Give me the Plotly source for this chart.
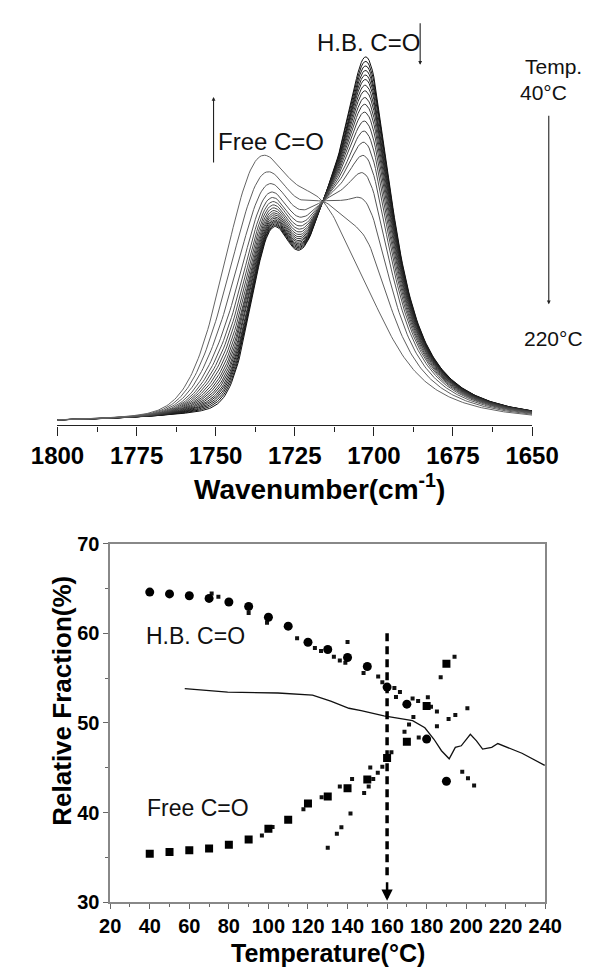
import numpy as np
import plotly.graph_objects as go

W, H = 615, 977
FONT = "Liberation Sans, Arial, sans-serif"

# ---------------- FTIR carbonyl band, 40-220 C ----------------
temps_ir = list(range(40, 230, 10))
# share of the high-temperature band form in each spectrum (two-state picture)
mix_weight = [0.0, 0.02, 0.04, 0.06, 0.08, 0.10, 0.125, 0.15, 0.18, 0.21,
              0.245, 0.285, 0.33, 0.38, 0.44, 0.52, 0.64, 0.80, 1.0]
# component bands: (centre cm-1, half width cm-1, height, lorentzian share)
bands_low_T = [(1732.5, 7.5, 0.424, 0.0),
               (1716.0, 8.0, 0.268, 0.0),
               (1702.0, 10.0, 0.968, 1.0)]
bands_high_T = [(1736.4, 13.0, 0.666, 0.15),
                (1716.0, 10.0, 0.330, 0.0),
                (1702.0, 15.0, 0.270, 1.0)]
wn_ticks = [1800, 1775, 1750, 1725, 1700, 1675, 1650]

# ---------------- fractions from curve fitting ----------------
temp_fit = [40, 50, 60, 70, 80, 90, 100, 110, 120, 130, 140, 150, 160, 170, 180, 190]
hb_fraction = [64.6, 64.4, 64.2, 63.9, 63.5, 63.0, 61.8, 60.8, 59.0, 58.2,
               57.3, 56.3, 54.0, 52.1, 48.2, 43.5]
free_fraction = [35.4, 35.6, 35.8, 36.0, 36.4, 37.0, 38.2, 39.2, 41.0, 41.8,
                 42.7, 43.7, 46.1, 47.9, 51.9, 56.6]
# second (small symbol) run
hb_run2_T = [71.3, 74.7, 90.0, 99.3, 114.5, 123.5, 126.6, 133.1, 136.1, 138.9,
             140.0, 148.1, 155.5, 157.6, 163.7, 164.5, 166.5, 172.9, 175.7, 180.6,
             182.2, 185.2, 191.1, 194.5, 200.6, 187.1, 194.1]
hb_run2_val = [64.44, 64.08, 62.26, 61.17, 59.45, 58.36, 58.04, 57.38, 56.98, 56.73,
               59.02, 55.57, 55.17, 54.54, 53.89, 52.90, 53.45, 52.73, 52.44, 52.87,
               51.82, 51.27, 50.44, 50.90, 51.64, 55.09, 57.38]
free_run2_T = [96.7, 102.1, 117.7, 126.9, 136.1, 142.3, 148.4, 150.7, 151.5, 153.0,
               155.3, 157.6, 162.2, 168.8, 171.1, 173.3, 176.0, 185.2, 198.0, 200.9,
               204.0, 130.0, 134.6, 136.9, 141.5]
free_run2_val = [37.45, 38.40, 40.36, 41.71, 42.91, 43.74, 42.18, 42.91, 45.02, 43.74,
                 44.44, 45.10, 46.73, 49.02, 49.82, 50.66, 48.37, 49.63, 44.55, 43.82,
                 43.02, 36.08, 37.64, 38.37, 39.89]
# continuous trace
curve_T = [57.7, 79.4, 104.8, 112.0, 122.3, 131.5, 140.7, 146.9, 158.4, 165.3,
           172.9, 179.1, 183.7, 187.5, 191.4, 194.5, 197.5, 202.1, 205.2, 208.3,
           212.9, 216.0, 228.2, 239.7]
curve_val = [53.82, 53.45, 53.34, 53.25, 53.10, 52.44, 51.64, 51.38, 50.80, 50.55,
             50.26, 49.46, 48.18, 46.90, 46.00, 47.28, 47.45, 48.73, 48.00, 47.09,
             47.28, 47.70, 46.62, 45.27]
transition_T = 160
transition_top = 60


def band(nu, centre, hw, height, eta):
    d = (nu - centre) / hw
    return height * ((1 - eta) * np.exp(-np.log(2) * d ** 2) + eta / (1 + d ** 2))


def spectrum(nu, bands):
    return sum(band(nu, *b) for b in bands)


nu = np.arange(1650.0, 1800.01, 0.5)
s_low = spectrum(nu, bands_low_T)
s_high = spectrum(nu, bands_high_T)


def px(x):
    return x / W


def py(y):
    return 1 - y / H


def label(x, y, text, size, family=FONT, color="#111", **kw):
    d = dict(x=px(x), y=py(y), xref="paper", yref="paper", text=text,
             showarrow=False, xanchor="center", yanchor="middle",
             font=dict(size=size, color=color, family=family))
    d.update(kw)
    return d


def arrow(x, y_head, y_tail, width=1.1, size=0.7):
    return dict(x=px(x), y=py(y_head), xref="paper", yref="paper", text="",
                showarrow=True, ax=0, ay=y_tail - y_head, axref="pixel", ayref="pixel",
                arrowhead=2, arrowsize=size, arrowwidth=width, arrowcolor="#222")


fig = go.Figure()

n = len(temps_ir)
for i, (t, w) in enumerate(zip(temps_ir, mix_weight)):
    g = int(15 + 85 * i / (n - 1))
    fig.add_trace(go.Scatter(
        x=nu, y=(1 - w) * s_low + w * s_high, mode="lines",
        line=dict(color=f"rgb({g},{g},{g})", width=1.0),
        name=f"{t} °C", showlegend=False, xaxis="x", yaxis="y"))

# lower panel
fig.add_trace(go.Scatter(x=curve_T, y=curve_val, mode="lines",
                         line=dict(color="#111", width=1.3),
                         xaxis="x2", yaxis="y2", showlegend=False))
fig.add_trace(go.Scatter(x=hb_run2_T, y=hb_run2_val, mode="markers",
                         marker=dict(symbol="square", size=4, color="#111"),
                         xaxis="x2", yaxis="y2", showlegend=False))
fig.add_trace(go.Scatter(x=free_run2_T, y=free_run2_val, mode="markers",
                         marker=dict(symbol="square", size=4, color="#111"),
                         xaxis="x2", yaxis="y2", showlegend=False))
fig.add_trace(go.Scatter(x=temp_fit, y=hb_fraction, mode="markers",
                         marker=dict(symbol="circle", size=9, color="#000"),
                         xaxis="x2", yaxis="y2", showlegend=False))
fig.add_trace(go.Scatter(x=temp_fit, y=free_fraction, mode="markers",
                         marker=dict(symbol="square", size=8, color="#000"),
                         xaxis="x2", yaxis="y2", showlegend=False))
fig.add_trace(go.Scatter(x=[transition_T, transition_T], y=[transition_top, 32.5],
                         mode="lines", line=dict(color="#000", width=3.5, dash="8px,5px"),
                         xaxis="x2", yaxis="y2", showlegend=False))

annotations = [
    # upper panel labels
    label(374, 32, "H.B. C=O", 24),
    arrow(431, 55, 12),
    label(268, 133, "Free C=O", 24),
    arrow(204.5, 88, 155),
    label(577, 57, "Temp.", 21),
    label(566, 83, "40°C", 21),
    arrow(572, 300, 110),
    label(577, 335, "220°C", 21),
    label(321, 487, "<b>Wavenumber(cm<sup>-1</sup>)</b>", 28, color="#000"),
    # lower panel labels
    dict(x=37, y=59.75, xref="x2", yref="y2", xanchor="left", yanchor="middle",
         text="H.B. C=O", showarrow=False, font=dict(size=23, color="#111", family=FONT)),
    dict(x=37.8, y=40.55, xref="x2", yref="y2", xanchor="left", yanchor="middle",
         text="Free C=O", showarrow=False, font=dict(size=23, color="#111", family=FONT)),
    dict(x=transition_T, y=30.15, xref="x2", yref="y2", text="", showarrow=True,
         ax=0, ay=-20, arrowhead=2, arrowsize=0.9, arrowwidth=2.5, arrowcolor="#000"),
    label(330, 964, "<b>Temperature(°C)</b>", 25, color="#000"),
    label(39, 706, "<b>Relative Fraction(%)</b>", 26, color="#000", textangle=-90),
]

fig.update_layout(
    width=W, height=H, margin=dict(l=0, r=0, t=0, b=0),
    paper_bgcolor="white", plot_bgcolor="white",
    font=dict(family=FONT, color="#000"),
    annotations=annotations,
    xaxis=dict(domain=[px(33.4), px(553.7)], range=[1800, 1650], anchor="y",
               tickvals=wn_ticks, ticks="outside", ticklen=9, tickwidth=1.2,
               tickcolor="#222", showline=True, linecolor="#222", linewidth=1.4,
               showgrid=False, zeroline=False,
               minor=dict(dtick=12.5, ticks="outside", ticklen=5, tickcolor="#222"),
               tickfont=dict(size=24, family=FONT, color="#000", weight="bold")),
    yaxis=dict(domain=[py(424), py(10)], range=[-0.00535, 1.1016], visible=False,
               anchor="x"),
    xaxis2=dict(domain=[px(91.2), px(568.2)], range=[20, 240], anchor="y2",
                dtick=20, tick0=20, ticks="outside", ticklen=5, tickwidth=1.2,
                tickcolor="#666", showline=True, mirror=True, linecolor="#888",
                linewidth=1.6, showgrid=False, zeroline=False,
                minor=dict(dtick=10, ticks="outside", ticklen=3, tickcolor="#666"),
                tickfont=dict(size=20, family=FONT, color="#000", weight="bold")),
    yaxis2=dict(domain=[py(911.7), py(545)], range=[30, 70], anchor="x2",
                dtick=10, ticks="outside", ticklen=5, tickwidth=1.2,
                tickcolor="#666", showline=True, mirror=True, linecolor="#888",
                linewidth=1.6, showgrid=False, zeroline=False,
                minor=dict(dtick=5, ticks="outside", ticklen=3, tickcolor="#666"),
                tickfont=dict(size=20, family=FONT, color="#000", weight="bold")),
)

fig.write_html("out.html")
